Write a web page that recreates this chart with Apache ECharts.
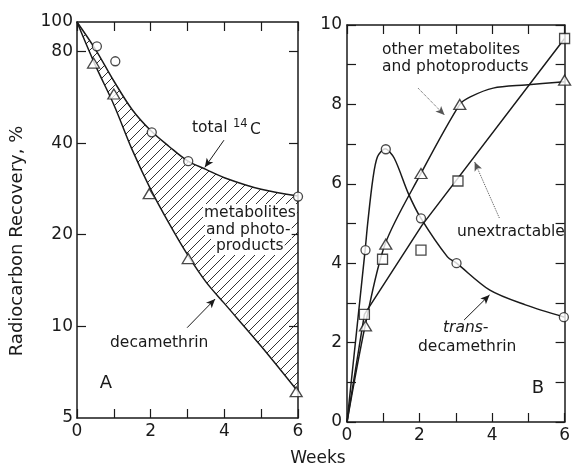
<!DOCTYPE html>
<html>
<head>
    <meta charset="UTF-8">
    <title>Radiocarbon recovery</title>
    <script src="https://cdn.jsdelivr.net/npm/echarts@6/dist/echarts.min.js"></script>
    <style>
        body { margin: 0; background: #fff; }
        #chart { width: 573px; height: 466px; }
    </style>
</head>
<body>
    <div id="chart"></div>
    <script>
        // panel A (log scale) - curves
        const weeksA = [0, 0.5, 1, 1.5, 2, 2.5, 3, 3.5, 4, 5, 6];
        const totalCurve = [100, 81.3, 64, 51.5, 44, 39, 35, 32.8, 30.8, 28.2, 26.8];
        const decaCurve = [100, 72, 53.5, 38, 28.2, 21.8, 17.2, 14.0, 11.9, 8.6, 6.1];
        // panel A measured points
        const totalPtsX = [0.54, 1.04, 2.03, 3.02, 6.0];
        const totalPtsY = [83.2, 74.3, 43.4, 34.9, 26.7];
        const decaPtsX = [0.45, 1.0, 1.96, 3.02, 5.95];
        const decaPtsY = [73.3, 58, 27.3, 16.7, 6.1];
        const ticksA = [5, 10, 20, 40, 80, 100];

        // panel B curves
        const transX = [0, 0.5, 0.57, 0.71, 0.84, 1.05, 1.3, 1.69, 2.04, 2.77, 3.02, 3.94, 4.92, 6];
        const transY = [0, 4.33, 5.0, 6.1, 6.68, 6.88, 6.65, 5.76, 5.13, 4.16, 4.0, 3.32, 2.95, 2.64];
        const otherX = [0, 0.5, 1.05, 2.04, 3.11, 3.4, 4.03, 4.92, 6];
        const otherY = [0, 2.42, 4.48, 6.26, 8.0, 8.19, 8.41, 8.49, 8.57];
        const unextX = [0, 0.48, 2.07, 6];
        const unextY = [0, 2.71, 4.96, 9.66];
        // panel B measured points
        const transPtsX = [0.51, 1.07, 2.04, 3.02, 5.98];
        const transPtsY = [4.33, 6.87, 5.13, 4.0, 2.64];
        const otherPtsX = [0.51, 1.07, 2.04, 3.11, 6.0];
        const otherPtsY = [2.42, 4.48, 6.26, 8.0, 8.61];
        const unextPtsX = [0.48, 0.98, 2.04, 3.06, 6.0];
        const unextPtsY = [2.71, 4.1, 4.33, 6.07, 9.66];

        const ink = '#1a1a1a';
        const font = 'DejaVu Sans';

        function pairs(xs, ys) {
            return xs.map((x, i) => [x, ys[i]]);
        }

        // diagonal hatch pattern
        const hatch = document.createElement('canvas');
        hatch.width = 10;
        hatch.height = 10;
        const hc = hatch.getContext('2d');
        hc.strokeStyle = ink;
        hc.lineWidth = 0.9;
        hc.beginPath();
        hc.moveTo(0, 10); hc.lineTo(10, 0);
        hc.moveTo(-5, 5); hc.lineTo(5, -5);
        hc.moveTo(5, 15); hc.lineTo(15, 5);
        hc.stroke();

        const axisLine = { show: true, onZero: false, lineStyle: { color: ink, width: 1.5 } };
        const tick = { show: true, inside: true, length: 9, lineStyle: { color: ink, width: 1.2 } };
        const labelStyle = { color: ink, fontFamily: font, fontSize: 17 };

        function xAxis(grid, top) {
            return {
                type: 'value', gridIndex: grid, min: 0, max: 6, interval: 1, z: 10,
                position: top ? 'top' : 'bottom',
                axisLine: axisLine, axisTick: tick, splitLine: { show: false },
                axisLabel: Object.assign({
                    show: !top, margin: 5,
                    formatter: v => (v % 2 === 0 ? String(v) : '')
                }, labelStyle)
            };
        }

        function logAxis(right) {
            return {
                type: 'log', gridIndex: 0, min: 5, max: 100, logBase: 10, z: 10,
                position: right ? 'right' : 'left',
                axisLine: axisLine,
                axisTick: Object.assign({}, tick, { customValues: [10, 20, 40, 80] }),
                splitLine: { show: false }, minorTick: { show: false },
                axisLabel: Object.assign({
                    show: !right, margin: 4, customValues: ticksA,
                    formatter: v => String(Math.round(v))
                }, labelStyle)
            };
        }

        function linAxis(right) {
            return {
                type: 'value', gridIndex: 1, min: 0, max: 10, interval: 1, z: 10,
                position: right ? 'right' : 'left',
                axisLine: axisLine, axisTick: tick, splitLine: { show: false },
                axisLabel: Object.assign({
                    show: !right, margin: 5,
                    formatter: v => (v % 2 === 0 ? String(v) : '')
                }, labelStyle)
            };
        }

        function curve(name, xi, yi, data, smooth, extra) {
            return Object.assign({
                name: name, type: 'line', xAxisIndex: xi, yAxisIndex: yi,
                data: data, smooth: smooth, symbol: 'none', z: 2,
                lineStyle: { color: ink, width: 1.5 }
            }, extra || {});
        }

        function marks(name, xi, yi, data, symbol, size) {
            return {
                name: name, type: 'scatter', xAxisIndex: xi, yAxisIndex: yi,
                data: data, symbol: symbol, symbolSize: size, clip: false, z: 12,
                itemStyle: { color: '#fff', borderColor: ink, borderWidth: 1.3 }
            };
        }

        function arrow(from, to, dotted) {
            return [
                { coord: from, symbol: 'none',
                  lineStyle: { color: dotted ? '#555' : ink, width: 1, type: dotted ? 'dotted' : 'solid' } },
                { coord: to, symbol: 'arrow', symbolSize: [6, 9] }
            ];
        }

        function arrows(list) {
            return {
                silent: true, animation: false, label: { show: false },
                symbol: ['none', 'arrow'], data: list
            };
        }

        function txt(x, y, text, opts) {
            return {
                type: 'text', x: x, y: y, z: 100,
                rotation: (opts && opts.rotation) || 0,
                style: Object.assign({
                    text: text, fill: ink, font: '15.5px "' + font + '"',
                    align: 'left', verticalAlign: 'middle'
                }, (opts && opts.style) || {})
            };
        }

        const white = { backgroundColor: '#fff', padding: [1, 1] };

        const option = {
            animation: false,
            backgroundColor: '#fff',
            grid: [
                { left: 77, top: 22, width: 221, height: 396 },
                { left: 347, top: 25, width: 223, height: 397 }
            ],
            xAxis: [xAxis(0, false), xAxis(0, true), xAxis(1, false), xAxis(1, true)],
            yAxis: [logAxis(false), logAxis(true), linAxis(false), linAxis(true)],
            series: [
                // hatch under the total curve, then white under decamethrin leaves the band
                curve('total 14C', 0, 0, pairs(weeksA, totalCurve), 0.35, {
                    z: 2,
                    areaStyle: { color: { image: hatch, repeat: 'repeat' }, opacity: 1, origin: 'start' },
                    markLine: arrows([
                        arrow([3.99, 40.9], [3.47, 33.3], false)
                    ])
                }),
                curve('decamethrin', 0, 0, pairs(weeksA, decaCurve), 0.35, {
                    z: 3,
                    areaStyle: { color: '#fff', opacity: 1, origin: 'start' },
                    markLine: arrows([
                        arrow([2.99, 9.9], [3.75, 12.3], false)
                    ])
                }),
                marks('total pts', 0, 0, pairs(totalPtsX, totalPtsY), 'circle', 9),
                marks('deca pts', 0, 0, pairs(decaPtsX, decaPtsY), 'triangle', [12, 10]),

                curve('trans-decamethrin', 2, 2, pairs(transX, transY), 0.3, {
                    markLine: arrows([
                        arrow([3.23, 2.57], [3.93, 3.2], false)
                    ])
                }),
                curve('other', 2, 2, pairs(otherX, otherY), 0.3, {
                    markLine: arrows([
                        arrow([1.96, 8.41], [2.69, 7.73], true)
                    ])
                }),
                curve('unextractable', 2, 2, pairs(unextX, unextY), false, {
                    markLine: arrows([
                        arrow([4.2, 5.14], [3.52, 6.55], true)
                    ])
                }),
                marks('trans pts', 2, 2, pairs(transPtsX, transPtsY), 'circle', 9),
                marks('other pts', 2, 2, pairs(otherPtsX, otherPtsY), 'triangle', [12, 10]),
                marks('unext pts', 2, 2, pairs(unextPtsX, unextPtsY), 'rect', 10)
            ],
            graphic: [
                txt(17, 241, 'Radiocarbon Recovery, %', {
                    rotation: Math.PI / 2,
                    style: { align: 'center', font: '18px "' + font + '"' }
                }),
                txt(318, 459, 'Weeks', { style: { align: 'center', font: '17px "' + font + '"' } }),
                txt(192, 128, 'total'),
                txt(233, 124, '14', { style: { font: '11.5px "' + font + '"' } }),
                txt(250, 130, 'C'),
                txt(203, 213, 'metabolites', { style: white }),
                txt(205, 230, 'and photo-', { style: white }),
                txt(215, 246, 'products', { style: white }),
                txt(110, 343, 'decamethrin'),
                txt(106, 383, 'A', { style: { align: 'center', font: '18px "' + font + '"' } }),
                txt(382, 50, 'other metabolites'),
                txt(382, 67, 'and photoproducts'),
                txt(457, 232, 'unextractable'),
                txt(443, 328, 'trans-', { style: { font: 'italic 15.5px "' + font + '"' } }),
                txt(418, 347, 'decamethrin'),
                txt(538, 388, 'B', { style: { align: 'center', font: '18px "' + font + '"' } })
            ]
        };

        const myChart = echarts.init(document.getElementById('chart'));
        myChart.setOption(option);
    </script>
</body>
</html>
